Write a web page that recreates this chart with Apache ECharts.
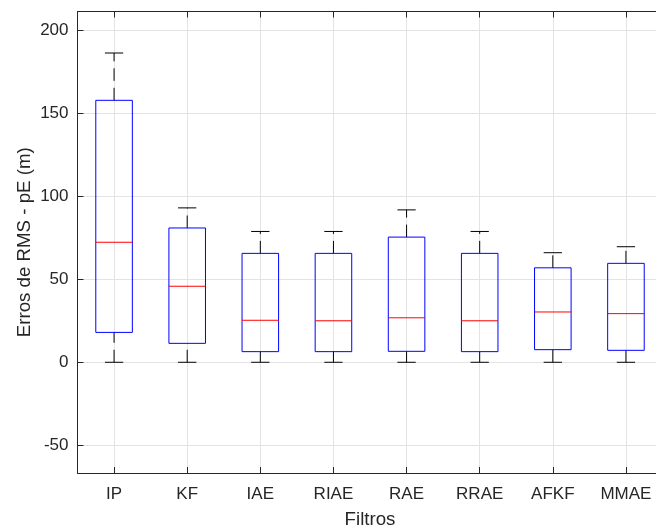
<!DOCTYPE html>
<html>
<head>
<meta charset="utf-8">
<script src="https://cdn.jsdelivr.net/npm/echarts@6/dist/echarts.min.js"></script>
<style>
  html, body { margin: 0; padding: 0; background: #fff; }
  #chart { width: 656px; height: 526px; }
</style>
</head>
<body>
<div id="chart"></div>
<script>
// box statistics per filter
const categories = ['IP', 'KF', 'IAE', 'RIAE', 'RAE', 'RRAE', 'AFKF', 'MMAE'];
const whiskerLow = [0, 0, 0, 0, 0, 0, 0, 0];
const q1 = [18.0, 11.4, 6.4, 6.4, 6.6, 6.4, 7.6, 7.2];
const median = [72.3, 45.8, 25.3, 25.0, 26.8, 25.0, 30.3, 29.3];
const q3 = [157.8, 80.9, 65.6, 65.6, 75.4, 65.6, 56.9, 59.6];
const whiskerHigh = [186.3, 93.0, 78.8, 78.8, 91.8, 78.8, 66.0, 69.6];
const yTicks = [-50, 0, 50, 100, 150, 200];
const xTicks = categories.map((c, i) => i);

const FONT = "'Liberation Sans', Arial, sans-serif";
const AXIS_COLOR = '#262626';
const GRID_COLOR = '#e3e3e3';

const boxData = categories.map((c, i) => [i, whiskerLow[i], q1[i], median[i], q3[i], whiskerHigh[i]]);

function renderBox(params, api) {
  const i = api.value(0);
  const x = api.coord([i, 0])[0];
  const band = api.size([1, 0])[0];
  const bw = band * 0.5;
  const cw = band * 0.25;
  const yLo = api.coord([i, api.value(1)])[1];
  const yQ1 = api.coord([i, api.value(2)])[1];
  const yMed = api.coord([i, api.value(3)])[1];
  const yQ3 = api.coord([i, api.value(4)])[1];
  const yHi = api.coord([i, api.value(5)])[1];
  const dash = { stroke: '#000', lineWidth: 1, lineDash: [12.5, 7] };
  const solid = { stroke: '#000', lineWidth: 1 };
  return {
    type: 'group',
    children: [
      { type: 'line', shape: { x1: x, y1: yQ3, x2: x, y2: yHi }, style: dash },
      { type: 'line', shape: { x1: x, y1: yLo, x2: x, y2: yQ1 }, style: dash },
      { type: 'line', shape: { x1: x - cw / 2, y1: yHi, x2: x + cw / 2, y2: yHi }, style: solid },
      { type: 'line', shape: { x1: x - cw / 2, y1: yLo, x2: x + cw / 2, y2: yLo }, style: solid },
      { type: 'rect', shape: { x: x - bw / 2, y: yQ3, width: bw, height: yQ1 - yQ3 },
        style: { fill: 'none', stroke: '#0000ff', lineWidth: 1 } },
      { type: 'line', shape: { x1: x - bw / 2, y1: yMed, x2: x + bw / 2, y2: yMed },
        style: { stroke: '#ff0000', lineWidth: 1 } }
    ]
  };
}

const chart = echarts.init(document.getElementById('chart'), null, { renderer: 'canvas' });

chart.setOption({
  animation: false,
  backgroundColor: '#ffffff',
  grid: { left: 77.5, top: 11.5, width: 585, height: 461.5, containLabel: false, outerBoundsMode: 'none' },
  xAxis: [
    {
      type: 'value',
      min: -0.5,
      max: 7.5,
      position: 'bottom',
      name: 'Filtros',
      nameLocation: 'middle',
      nameGap: 37,
      nameTextStyle: { fontFamily: FONT, fontSize: 18.7, color: AXIS_COLOR },
      axisLine: { show: true, onZero: false, lineStyle: { color: AXIS_COLOR, width: 1 } },
      axisTick: { show: true, inside: true, length: 6, customValues: xTicks,
        lineStyle: { color: AXIS_COLOR, width: 1 } },
      axisLabel: { customValues: xTicks, formatter: v => categories[v], margin: 13,
        fontFamily: FONT, fontSize: 17, color: AXIS_COLOR },
      splitLine: { show: true, lineStyle: { color: GRID_COLOR, width: 1 } }
    },
    {
      type: 'value',
      min: -0.5,
      max: 7.5,
      position: 'top',
      axisLine: { show: true, onZero: false, lineStyle: { color: AXIS_COLOR, width: 1 } },
      axisTick: { show: true, inside: true, length: 6, customValues: xTicks,
        lineStyle: { color: AXIS_COLOR, width: 1 } },
      axisLabel: { show: false },
      splitLine: { show: false }
    }
  ],
  yAxis: {
    type: 'value',
    min: -66.7,
    max: 211.3,
    name: 'Erros de RMS - pE (m)',
    nameLocation: 'middle',
    nameGap: 43,
    nameMoveOverlap: false,
    nameTextStyle: { fontFamily: FONT, fontSize: 18.7, color: AXIS_COLOR },
    axisLine: { show: true, onZero: false, lineStyle: { color: AXIS_COLOR, width: 1 } },
    axisTick: { show: true, inside: true, length: 6, customValues: yTicks,
      lineStyle: { color: AXIS_COLOR, width: 1 } },
    axisLabel: { customValues: yTicks, margin: 9,
      fontFamily: FONT, fontSize: 17, color: AXIS_COLOR },
    splitLine: { show: true, lineStyle: { color: GRID_COLOR, width: 1 } }
  },
  series: [
    {
      type: 'custom',
      xAxisIndex: 0,
      yAxisIndex: 0,
      renderItem: renderBox,
      encode: { x: 0, y: [1, 2, 3, 4, 5] },
      data: boxData,
      clip: false,
      z: 5
    }
  ]
});
</script>
</body>
</html>
